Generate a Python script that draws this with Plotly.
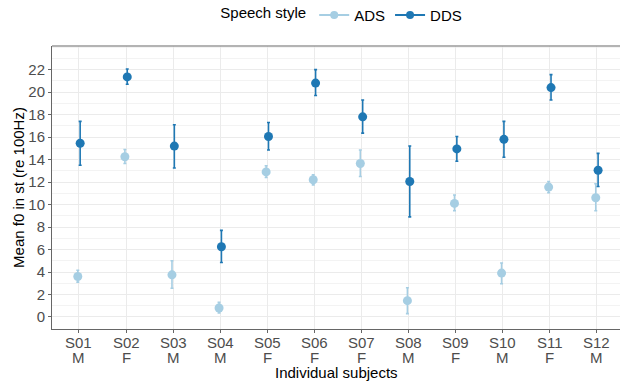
import plotly.graph_objects as go

subjects = ["S01", "S02", "S03", "S04", "S05", "S06", "S07", "S08", "S09", "S10", "S11", "S12"]
sexes = ["M", "F", "M", "M", "F", "F", "F", "M", "F", "M", "F", "M"]

ads_mean = [3.6, 14.25, 3.75, 0.8, 12.9, 12.2, 13.65, 1.45, 10.1, 3.9, 11.55, 10.6]
ads_low = [3.1, 13.65, 2.55, 0.35, 12.4, 11.75, 12.5, 0.3, 9.45, 2.95, 11.05, 9.45]
ads_high = [4.15, 14.9, 5.0, 1.3, 13.45, 12.65, 14.85, 2.6, 10.85, 4.8, 12.05, 11.85]

dds_mean = [15.45, 21.35, 15.2, 6.25, 16.05, 20.8, 17.8, 12.05, 14.95, 15.8, 20.4, 13.05]
dds_low = [13.5, 20.7, 13.25, 4.85, 14.85, 19.7, 16.35, 8.9, 13.85, 14.2, 19.3, 11.6]
dds_high = [17.4, 22.05, 17.1, 7.7, 17.3, 22.0, 19.3, 15.2, 16.05, 17.4, 21.55, 14.55]

y_ticks = [0, 2, 4, 6, 8, 10, 12, 14, 16, 18, 20, 22]

ads_color = "#a6cee3"
dds_color = "#1f78b4"
dodge = 0.025

positions = list(range(1, len(subjects) + 1))

fig = go.Figure()

def add_series(name, color, means, lows, highs, offset):
    xs = [p + offset for p in positions]
    fig.add_trace(go.Scatter(
        x=xs, y=means, mode="markers", name=name, showlegend=False,
        marker=dict(color=color, size=9),
        error_y=dict(type="data", symmetric=False,
                     array=[h - m for h, m in zip(highs, means)],
                     arrayminus=[m - l for m, l in zip(means, lows)],
                     color=color, thickness=1.6, width=1.5),
    ))
    fig.add_trace(go.Scatter(
        x=[None], y=[None], mode="lines+markers", name=name,
        marker=dict(color=color, size=8), line=dict(color=color, width=2),
    ))

add_series("ADS", ads_color, ads_mean, ads_low, ads_high, -dodge)
add_series("DDS", dds_color, dds_mean, dds_low, dds_high, dodge)

font = "Liberation Sans, Arial, sans-serif"

# two-line category labels: subject id and sex
for p, s, g in zip(positions, subjects, sexes):
    fig.add_annotation(x=p, y=0, xref="x", yref="paper", text=s, showarrow=False,
                       yanchor="middle", yshift=-13, borderpad=0,
                       font=dict(size=15, color="#4d4d4d", family=font))
    fig.add_annotation(x=p, y=0, xref="x", yref="paper", text=g, showarrow=False,
                       yanchor="middle", yshift=-28, borderpad=0,
                       font=dict(size=15, color="#4d4d4d", family=font))

fig.add_annotation(x=0.5, y=0, xref="paper", yref="paper", text="Individual subjects",
                   showarrow=False, yanchor="middle", yshift=-43, borderpad=0,
                   font=dict(size=15, color="black", family=font))

# top panel border
fig.add_shape(type="line", xref="paper", yref="paper", x0=0, x1=1, y0=1, y1=1,
              line=dict(color="#9a9a9a", width=1.3))

fig.update_layout(
    width=620, height=381,
    margin=dict(l=52, r=0, t=46, b=52),
    paper_bgcolor="white", plot_bgcolor="white",
    font=dict(family=font, size=15, color="black"),
    legend=dict(orientation="h", x=0.512, xanchor="center", y=0.96, yanchor="middle",
                yref="container",
                title=dict(text="Speech style", side="left", font=dict(size=15, family=font)),
                font=dict(size=15, family=font), itemwidth=30, tracegroupgap=0),
    xaxis=dict(
        range=[0.427, 12.49], tickmode="array", tickvals=positions,
        showticklabels=False,
        showgrid=True, gridcolor="#ebebeb", gridwidth=1.2,
        showline=True, linecolor="#666666", linewidth=1,
        ticks="outside", ticklen=3, tickcolor="#666666",
        zeroline=False, automargin=False,
    ),
    yaxis=dict(
        range=[-1.07, 24.1], tickmode="array", tickvals=y_ticks,
        showgrid=True, gridcolor="#ebebeb", gridwidth=1.2,
        minor=dict(dtick=1, showgrid=True, gridcolor="#f3f3f3", gridwidth=0.8),
        showline=True, linecolor="#666666", linewidth=1,
        ticks="outside", ticklen=3, tickcolor="#666666",
        tickfont=dict(size=15, color="#4d4d4d"),
        title=dict(text="Mean f0 in st (re 100Hz)", font=dict(size=15), standoff=0),
        zeroline=False, automargin=False,
    ),
)

fig.write_html("out.html", config={"displayModeBar": False},
               post_script="document.body.style.margin='0';document.body.style.overflow='hidden';")
